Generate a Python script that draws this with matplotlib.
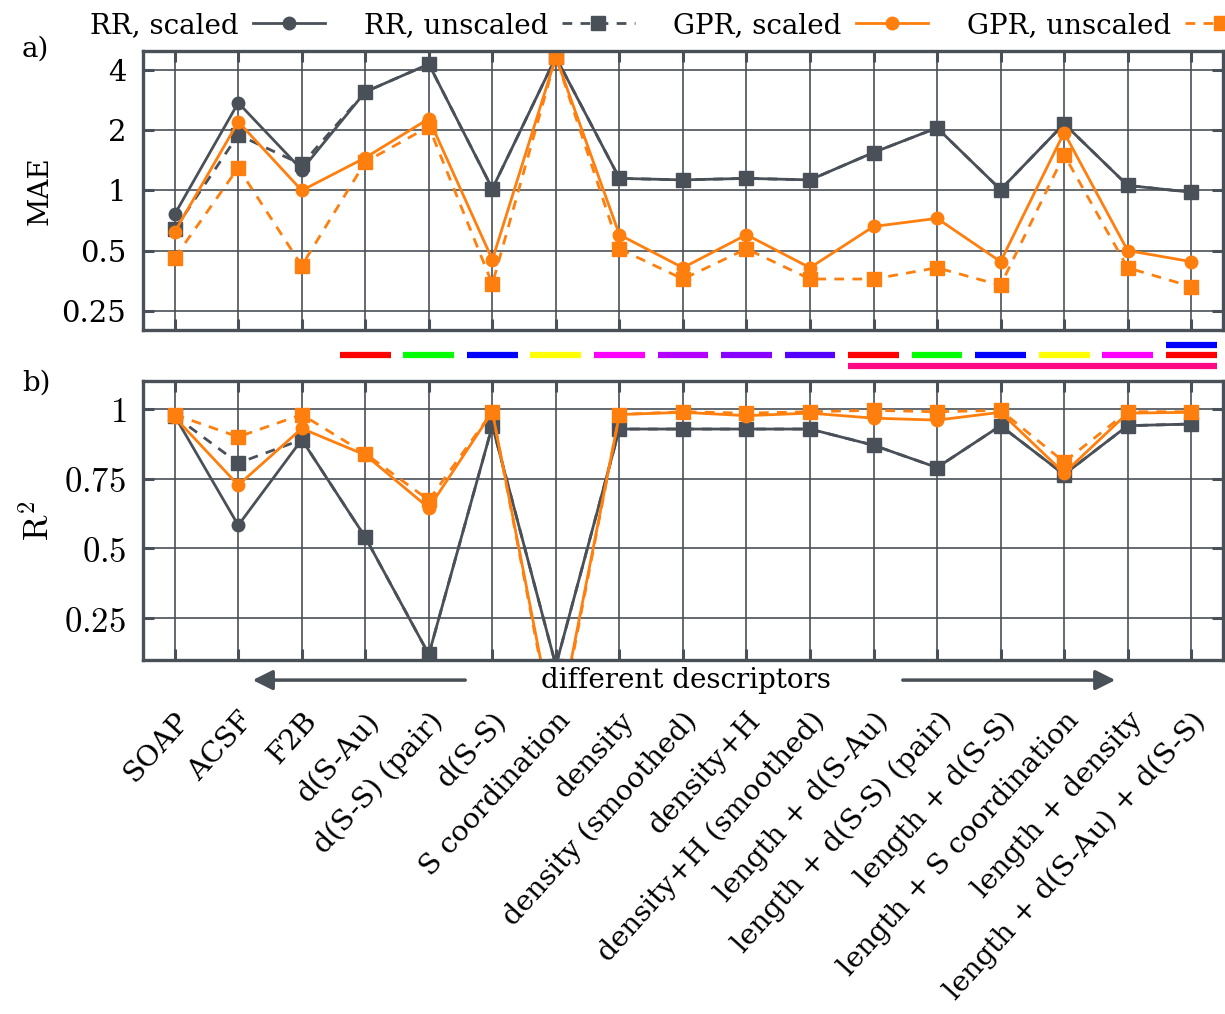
import matplotlib
matplotlib.use("Agg")
import matplotlib.pyplot as plt
from matplotlib.ticker import FixedLocator, NullLocator

plt.rcParams['font.family'] = ['DejaVu Serif']
plt.rcParams['mathtext.fontset'] = 'cm'

descriptors = ['SOAP', 'ACSF', 'F2B', 'd(S-Au)', 'd(S-S) (pair)', 'd(S-S)',
               'S coordination', 'density', 'density (smoothed)', 'density+H',
               'density+H (smoothed)', 'length + d(S-Au)', 'length + d(S-S) (pair)',
               'length + d(S-S)', 'length + S coordination', 'length + density',
               'length + d(S-Au) + d(S-S)']

# MAE
mae_rr_scaled = [0.76, 2.75, 1.27, 3.12, 4.3, 1.02, 4.66, 1.15, 1.13, 1.15, 1.13,
                 1.55, 2.06, 1.01, 2.16, 1.06, 0.98]
mae_rr_unscaled = [0.64, 1.9, 1.35, 3.12, 4.3, 1.02, 4.66, 1.15, 1.13, 1.15, 1.13,
                   1.55, 2.06, 1.01, 2.16, 1.06, 0.98]
mae_gpr_scaled = [0.62, 2.21, 1.0, 1.46, 2.29, 0.45, 4.66, 0.60, 0.41, 0.60, 0.41,
                  0.66, 0.725, 0.44, 1.95, 0.50, 0.44]
mae_gpr_unscaled = [0.46, 1.30, 0.42, 1.39, 2.09, 0.34, 4.66, 0.51, 0.36, 0.51, 0.36,
                    0.36, 0.41, 0.335, 1.51, 0.41, 0.33]

# R^2
r2_rr_scaled = [0.975, 0.583, 0.89, 0.54, 0.12, 0.94, 0.08, 0.928, 0.928, 0.928, 0.928,
                0.87, 0.79, 0.94, 0.765, 0.94, 0.946]
r2_rr_unscaled = [0.975, 0.806, 0.89, 0.54, 0.12, 0.94, 0.08, 0.928, 0.928, 0.928, 0.928,
                  0.87, 0.79, 0.94, 0.765, 0.94, 0.946]
r2_gpr_scaled = [0.97, 0.727, 0.93, 0.835, 0.645, 0.99, -0.18, 0.98, 0.988, 0.976, 0.985,
                 0.967, 0.96, 0.988, 0.77, 0.985, 0.988]
r2_gpr_unscaled = [0.98, 0.90, 0.98, 0.84, 0.673, 0.99, -0.2, 0.98, 0.99, 0.985, 0.99,
                   0.995, 0.99, 0.995, 0.81, 0.99, 0.99]

# descriptor component bars: (index, row, color); row 0 = "length" bar
comp_idx = [3, 4, 5, 6, 7, 8, 9, 10, 11, 12, 13, 14, 15, 16, 16]
comp_row = [1, 1, 1, 1, 1, 1, 1, 1, 1, 1, 1, 1, 1, 1, 2]
comp_col = ['#ff0000', '#00ff00', '#0000ff', '#ffff00', '#ff00ff', '#b300ff',
            '#8800ff', '#5500ff', '#ff0000', '#00ff00', '#0000ff', '#ffff00',
            '#ff00ff', '#ff0000', '#0000ff']
length_span = (11, 16)
length_col = '#ff0a84'

gray = '#4a5058'
orange = '#ff7f0e'
x = list(range(len(descriptors)))

fig = plt.figure(figsize=(12.25, 10.14), dpi=100)
ax1 = fig.add_axes([0.1167, 0.6746, 0.8816, 0.2751])
ax2 = fig.add_axes([0.1167, 0.3491, 0.8816, 0.2751])
axb = fig.add_axes([0.1167, 0.6292, 0.8816, 0.0424])

def style(ax):
    for s in ax.spines.values():
        s.set_linewidth(2.4)
        s.set_color(gray)
    ax.grid(True, color=gray, lw=1.2)
    ax.set_axisbelow(True)
    ax.tick_params(direction='in', length=8, width=2.2, color=gray,
                   top=True, right=True, labelsize=21, pad=12)
    ax.set_xlim(-0.5, 16.5)
    ax.set_xticks(x)

ms_c, ms_s, lw = 9, 10, 2.0
dash = (3.5, 3.0)
l1, = ax1.plot(x, mae_rr_scaled, '-o', color=gray, ms=ms_c, lw=lw)
l2, = ax1.plot(x, mae_rr_unscaled, '--s', color=gray, ms=ms_s, lw=lw, dashes=dash)
l3, = ax1.plot(x, mae_gpr_scaled, '-o', color=orange, ms=ms_c, lw=lw)
l4, = ax1.plot(x, mae_gpr_unscaled, '--s', color=orange, ms=ms_s, lw=lw, dashes=dash)
ax1.set_yscale('log', base=2)
ax1.set_ylim(0.2, 5)
style(ax1)
ax1.yaxis.set_major_locator(FixedLocator([0.25, 0.5, 1, 2, 4]))
ax1.yaxis.set_minor_locator(NullLocator())
ax1.set_yticklabels(['0.25', '0.5', '1', '2', '4'])
ax1.set_xticklabels([])
ax1.set_ylabel('MAE', fontsize=20, labelpad=6)

ax2.plot(x, r2_rr_scaled, '-o', color=gray, ms=ms_c, lw=lw)
ax2.plot(x, r2_rr_unscaled, '--s', color=gray, ms=ms_s, lw=lw, dashes=dash)
ax2.plot(x, r2_gpr_scaled, '-o', color=orange, ms=ms_c, lw=lw)
ax2.plot(x, r2_gpr_unscaled, '--s', color=orange, ms=ms_s, lw=lw, dashes=dash)
ax2.set_ylim(0.1, 1.1)
style(ax2)
ax2.set_yticks([0.25, 0.5, 0.75, 1])
ax2.set_yticklabels(['$0.25$', '$0.5$', '$0.75$', '$1$'], fontsize=25)
ax2.set_xticklabels(descriptors, rotation=48, ha='right', va='top',
                    rotation_mode='anchor', fontsize=20.5)
ax2.tick_params(axis='x', pad=34)
ax2.set_ylabel(r'$\mathrm{R}^2$', fontsize=25, labelpad=6)

ax2.annotate('', xy=(0.099, -0.072), xytext=(0.301, -0.072), xycoords='axes fraction',
             arrowprops=dict(arrowstyle='-|>', color=gray, lw=2.5, mutation_scale=30))
ax2.annotate('', xy=(0.903, -0.072), xytext=(0.701, -0.072), xycoords='axes fraction',
             arrowprops=dict(arrowstyle='-|>', color=gray, lw=2.5, mutation_scale=30))
ax2.text(0.503, -0.072, 'different descriptors', transform=ax2.transAxes,
         ha='center', va='center', fontsize=20)

# component bars
axb.set_xlim(-0.5, 16.5)
axb.set_ylim(-0.95, 3.14)
axb.axis('off')
for i, r, c in zip(comp_idx, comp_row, comp_col):
    axb.hlines(r, i - 0.4, i + 0.4, color=c, lw=4.5)
axb.hlines(0, length_span[0] - 0.4, length_span[1] + 0.4, color=length_col, lw=4.5)

fig.text(0.018, 0.952, 'a)', fontsize=20, va='center')
fig.text(0.018, 0.622, 'b)', fontsize=20, va='center')

fig.legend([l1, l2, l3, l4], ['RR, scaled', 'RR, unscaled', 'GPR, scaled', 'GPR, unscaled'],
           loc='center', bbox_to_anchor=(0.55, 0.975), ncol=4, frameon=False,
           markerfirst=False, fontsize=20, handlelength=2.6, columnspacing=1.4,
           handletextpad=0.5)

fig.savefig('out.png', dpi=100)
